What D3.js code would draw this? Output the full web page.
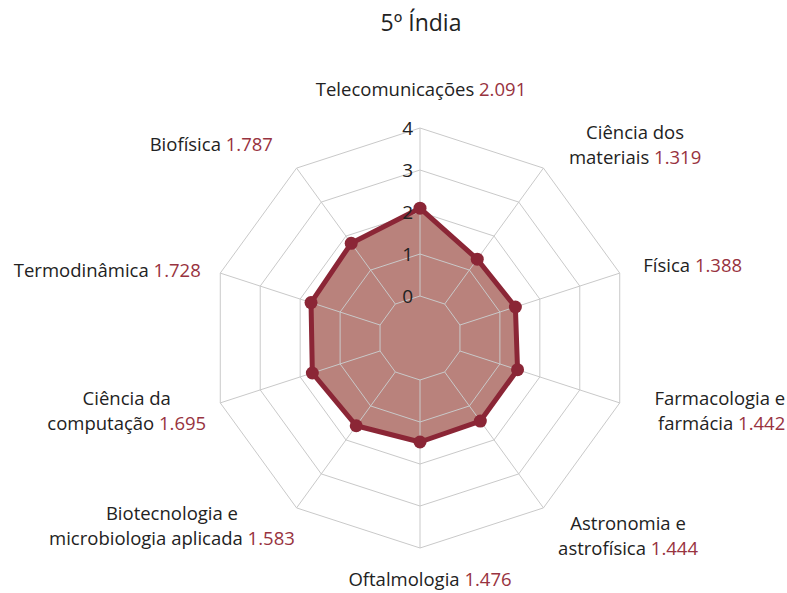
<!DOCTYPE html>
<html><head><meta charset="utf-8">
<script src="https://cdn.jsdelivr.net/npm/d3@7"></script>
<style>body{margin:0;background:#fff}svg{display:block}text{font-family:"Open Sans",sans-serif}</style>
</head><body>
<svg id="c" width="787" height="593"></svg>
<script>
const title = "5º Índia";
const categories = [
  ["Telecomunicações"],
  ["Ciência dos", "materiais"],
  ["Física"],
  ["Farmacologia e", "farmácia"],
  ["Astronomia e", "astrofísica"],
  ["Oftalmologia"],
  ["Biotecnologia e", "microbiologia aplicada"],
  ["Ciência da", "computação"],
  ["Termodinâmica"],
  ["Biofísica"]
];
const values = [2.091, 1.319, 1.388, 1.442, 1.444, 1.476, 1.583, 1.695, 1.728, 1.787];
const valueLabels = ["2.091","1.319","1.388","1.442","1.444","1.476","1.583","1.695","1.728","1.787"];
const ticks = [0, 1, 2, 3, 4];
const tickLabels = ["0","1","2","3","4"];

// layout (separate from data)
const cx = 420, cy = 338;
const labelR = 240;
const labelNudge = [[1,-10],[74,-12],[-5,1],[137,-15],[67,-10],[10,0],[-107,-20],[-65,-15],[9,6],[-6,0]];
const labelAnchor = ["middle","middle","start","end","middle","middle","middle","middle","end","end"];
const lineH = 25;

const svg = d3.select("#c");
const r = d3.scaleLinear().domain([-1, 4]).range([0, 210]);
const n = categories.length;
const ang = d3.scaleLinear().domain([0, n]).range([0, 2*Math.PI]);
const pt = (i, rad) => [cx + rad*Math.sin(ang(i)), cy - rad*Math.cos(ang(i))];

svg.append("text").attr("x", 421).attr("y", 22).attr("text-anchor","middle")
  .attr("dominant-baseline","central").attr("font-size", 23).attr("fill","#222").text(title);

const poly = d3.line();
svg.append("path").attr("d", poly(values.map((v,i)=>pt(i, r(v)))) + "Z")
  .attr("fill", "#b9827c").attr("stroke","none");

const g = svg.append("g").attr("fill","none").attr("stroke","#c9c9c9").attr("stroke-width",1);
ticks.forEach(t => {
  g.append("path").attr("d", poly(d3.range(n).map(i=>pt(i, r(t)))) + "Z");
});
d3.range(n).forEach(i => {
  const a = pt(i, r(ticks[0])), b = pt(i, r(ticks[ticks.length-1]));
  g.append("line").attr("x1",a[0]).attr("y1",a[1]).attr("x2",b[0]).attr("y2",b[1]);
});

svg.append("path").attr("d", poly(values.map((v,i)=>pt(i, r(v)))) + "Z")
  .attr("fill","none").attr("stroke","#8b2636").attr("stroke-width",5).attr("stroke-linejoin","round");
svg.selectAll("circle.pt").data(values).join("circle").attr("class","pt")
  .attr("cx",(v,i)=>pt(i,r(v))[0]).attr("cy",(v,i)=>pt(i,r(v))[1]).attr("r",6.5).attr("fill","#8b2636");

svg.selectAll("text.tick").data(ticks).join("text").attr("class","tick")
  .attr("x", cx - 7).attr("y", t => cy - r(t)).attr("text-anchor","end")
  .attr("dominant-baseline","central").attr("font-size",19).attr("fill","#222")
  .text((t,i)=>tickLabels[i]);

categories.forEach((lines, i) => {
  const p = pt(i, labelR);
  const x = p[0] + labelNudge[i][0], y = p[1] + labelNudge[i][1];
  const t = svg.append("text").attr("text-anchor", labelAnchor[i]).attr("font-size",18.5).attr("fill","#222");
  lines.forEach((ln, j) => {
    t.append("tspan").attr("x", x).attr("y", y + j*lineH).attr("dominant-baseline","central").text(ln);
    if (j === lines.length-1) {
      t.append("tspan").attr("dominant-baseline","central").attr("fill","#983340").text(" " + valueLabels[i]);
    }
  });
});
</script>
</body></html>
